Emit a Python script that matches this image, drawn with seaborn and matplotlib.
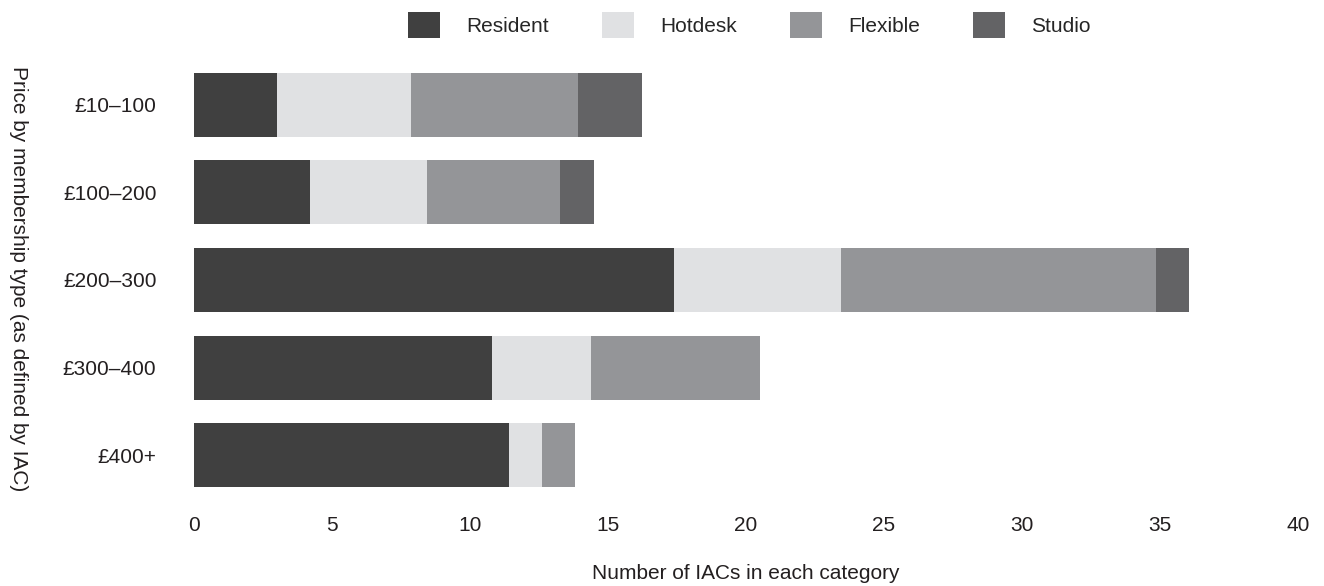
import matplotlib
matplotlib.use("Agg")
import matplotlib.pyplot as plt
import seaborn as sns
import pandas as pd
import numpy as np
from matplotlib.patches import Patch

categories = ["£10–100", "£100–200", "£200–300", "£300–400", "£400+"]
series_names = ["Resident", "Hotdesk", "Flexible", "Studio"]
resident = [3.0, 4.2, 17.4, 10.8, 11.4]
hotdesk = [4.85, 4.25, 6.05, 3.6, 1.2]
flexible = [6.05, 4.8, 11.4, 6.1, 1.2]
studio = [2.35, 1.25, 1.2, 0.0, 0.0]
x_ticks = [0, 5, 10, 15, 20, 25, 30, 35, 40]
colors = ["#404040", "#e0e1e3", "#949598", "#636365"]

sns.set_theme(style="white")
plt.rcParams["font.family"] = ["Liberation Sans", "DejaVu Sans"]

FS = 15

df = pd.DataFrame({"cat": categories, "Resident": resident, "Hotdesk": hotdesk,
                   "Flexible": flexible, "Studio": studio})
cum = df[series_names].cumsum(axis=1)

fig = plt.figure(figsize=(13.24, 5.86), dpi=100)
ax = fig.add_axes([0.1465, 0.1485, 0.8338, 0.7474])

for name, col in reversed(list(zip(series_names, colors))):
    sns.barplot(x=cum[name], y=df["cat"], orient="h", color=col, width=0.73,
                ax=ax, saturation=1, linewidth=0, errorbar=None)

ax.set_xlim(0, 40)
ax.set_ylim(4.5, -0.5)
ax.set_xticks(x_ticks)
ax.set_xticklabels([str(t) for t in x_ticks])
for s in ax.spines.values():
    s.set_visible(False)
ax.tick_params(axis="both", length=0, labelsize=FS, colors="#231f20")
ax.tick_params(axis="y", pad=27)
ax.tick_params(axis="x", pad=12)
ax.set_ylabel("")
ax.set_xlabel("Number of IACs in each category", fontsize=FS, color="#231f20", labelpad=21)
fig.text(0.0136, 0.524, "Price by membership type (as defined by IAC)", rotation=270,
         ha="center", va="center", fontsize=FS, color="#231f20")

handles = [Patch(facecolor=c, edgecolor="none", label=n) for n, c in zip(series_names, colors)]
fig.legend(handles=handles, loc="upper center", bbox_to_anchor=(0.566, 1.0), ncol=4,
           frameon=False, fontsize=FS, handlelength=1.54, handleheight=1.54,
           handletextpad=1.25, columnspacing=2.55, borderaxespad=0.2)

fig.savefig("out.png", dpi=100)
